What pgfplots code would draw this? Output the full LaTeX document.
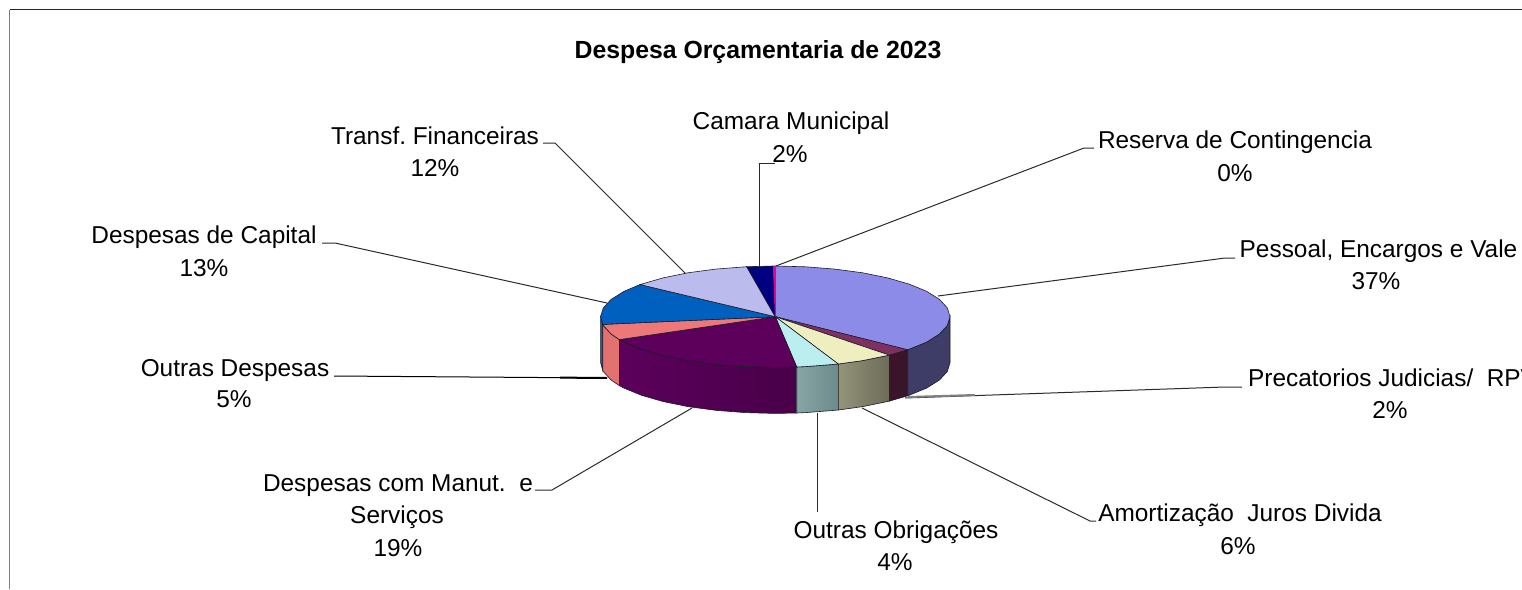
\documentclass[border=0pt]{standalone}
\usepackage{fontspec}
\setmainfont{Liberation Sans}
\usepackage{pgfplots}
\pgfplotsset{compat=1.18}
\definecolor{edge}{HTML}{1A1A2A}
\definecolor{lead}{HTML}{2A2A2A}
\begin{document}
\begin{tikzpicture}[every node/.style={font=\fontsize{24.4}{28}\selectfont, text=black, inner sep=0pt}]
  \useasboundingbox (0,0) rectangle (1522pt,589pt);
  \clip (0,0) rectangle (1522pt,589pt);
  \begin{axis}[
    scale only axis,
    width=1522pt, height=589pt,
    xmin=0, xmax=1522, ymin=0, ymax=589,
    y dir=reverse,
    hide axis,
    clip=false,
  ]
    % frame
    \addplot[black!85, line width=1.2pt] coordinates {(9.5,9.5)(1522,9.5)};
    \addplot[gray, line width=1.2pt] coordinates {(9.5,9.5)(9.5,589)};

    % leader lines
    \addplot[lead, line width=1pt] coordinates {(759,266)(759,163)(775,163)};
    \addplot[lead, line width=1pt] coordinates {(776,266)(1084,148)(1094,148)};
    \addplot[lead, line width=1pt] coordinates {(938,296)(1225,258)(1235,258)};
    \addplot[lead, line width=1pt] coordinates {(905,398)(1225,387)(1242,387)};
    \addplot[gray, line width=2pt] coordinates {(908,397)(975,395)};
    \addplot[lead, line width=1pt] coordinates {(862,408)(1090,521)(1096,521)};
    \addplot[lead, line width=1pt] coordinates {(817,413)(817,512)};
    \addplot[lead, line width=1pt] coordinates {(692,408)(552,490)(535,490)};
    \addplot[black, line width=1pt] coordinates {(334,376)(607,378)};
    \addplot[black, line width=2pt] coordinates {(560,377.6)(607,378)};
    \addplot[lead, line width=1pt] coordinates {(322,243)(335,243)(607,303)};
    \addplot[lead, line width=1pt] coordinates {(543,143)(555,143)(686,274)};

    % side walls
    \addplot[draw=edge, line width=0.6pt, fill={rgb,255:red,0;green,96;blue,192}] coordinates {
      (600.6,316.7)(602.7,324.4)(602.7,370.4)(600.6,362.7)} -- cycle;
    \addplot[draw=edge, line width=0.6pt, fill={rgb,255:red,226;green,114;blue,112}] coordinates {
      (602.7,324.4)(603.3,325.5)(611.1,334.0)(619.3,339.6)
      (619.3,385.6)(611.1,380.0)(603.3,371.5)(602.7,370.4)} -- cycle;
    \addplot[draw=edge, line width=0.6pt, left color={rgb,255:red,92;green,0;blue,92}, right color={rgb,255:red,72;green,0;blue,72}] coordinates {
      (619.3,339.6)(624.0,342.1)(641.5,349.3)(663.0,355.5)(687.9,360.6)(715.6,364.3)(745.0,366.6)(775.3,367.4)(796.7,367.0)
      (796.7,413.0)(775.3,413.4)(745.0,412.6)(715.6,410.3)(687.9,406.6)(663.0,401.5)(641.5,395.3)(624.0,388.1)(619.3,385.6)} -- cycle;
    \addplot[draw=edge, line width=0.6pt, left color={rgb,255:red,136;green,166;blue,166}, right color={rgb,255:red,108;green,138;blue,138}] coordinates {
      (796.7,367.0)(805.6,366.6)(835.0,364.3)(838.3,364.0)
      (838.3,410.0)(835.0,410.3)(805.6,412.6)(796.7,413.0)} -- cycle;
    \addplot[draw=edge, line width=0.6pt, left color={rgb,255:red,148;green,148;blue,122}, right color={rgb,255:red,108;green,108;blue,88}] coordinates {
      (838.3,364.0)(862.7,360.6)(887.6,355.5)(889.3,355.1)
      (889.3,401.1)(887.6,401.5)(862.7,406.6)(838.3,410.0)} -- cycle;
    \addplot[draw=edge, line width=0.6pt, fill={rgb,255:red,58;green,20;blue,40}] coordinates {
      (889.3,355.1)(907.7,349.8)(907.7,395.8)(889.3,401.1)} -- cycle;
    \addplot[draw=edge, line width=0.6pt, fill={rgb,255:red,61;green,61;blue,104}] coordinates {
      (907.7,349.8)(926.6,342.1)(939.5,334.0)(947.3,325.5)(950.0,316.7)
      (950.0,362.7)(947.3,371.5)(939.5,380.0)(926.6,388.1)(907.7,395.8)} -- cycle;

    % top slices, rim points read clockwise from twelve o'clock
    \addplot[draw=edge, line width=0.6pt, fill={rgb,255:red,140;green,140;blue,232}] coordinates {(775.3,316.7)
      (775.7,266.0)(805.6,266.8)(835.0,269.1)(862.7,272.8)(887.6,277.9)(909.1,284.1)(926.6,291.3)(939.5,299.4)(947.3,307.9)(950.0,316.7)
      (947.3,325.5)(939.5,334.0)(926.6,342.1)(907.7,349.8)} -- cycle;
    \addplot[draw=edge, line width=0.6pt, fill={rgb,255:red,127;green,47;blue,96}] coordinates {(775.3,316.7)
      (907.7,349.8)(889.3,355.1)} -- cycle;
    \addplot[draw=edge, line width=0.6pt, fill={rgb,255:red,238;green,238;blue,192}] coordinates {(775.3,316.7)
      (889.3,355.1)(887.6,355.5)(862.7,360.6)(838.3,364.0)} -- cycle;
    \addplot[draw=edge, line width=0.6pt, fill={rgb,255:red,187;green,238;blue,238}] coordinates {(775.3,316.7)
      (838.3,364.0)(835.0,364.3)(805.6,366.6)(796.7,367.0)} -- cycle;
    \addplot[draw=edge, line width=0.6pt, fill={rgb,255:red,92;green,0;blue,92}] coordinates {(775.3,316.7)
      (796.7,367.0)(775.3,367.4)(745.0,366.6)(715.6,364.3)(687.9,360.6)(663.0,355.5)(641.5,349.3)(624.0,342.1)(619.3,339.6)} -- cycle;
    \addplot[draw=edge, line width=0.6pt, fill={rgb,255:red,238;green,119;blue,119}] coordinates {(775.3,316.7)
      (619.3,339.6)(611.1,334.0)(603.3,325.5)(602.7,324.4)} -- cycle;
    \addplot[draw=edge, line width=0.6pt, fill={rgb,255:red,0;green,96;blue,192}] coordinates {(775.3,316.7)
      (602.7,324.4)(600.6,316.7)(603.3,307.9)(611.1,299.4)(624.0,291.3)(640.0,284.6)} -- cycle;
    \addplot[draw=edge, line width=0.6pt, fill={rgb,255:red,187;green,187;blue,238}] coordinates {(775.3,316.7)
      (640.0,284.6)(663.0,277.9)(687.9,272.8)(715.6,269.1)(746.7,266.7)} -- cycle;
    \addplot[draw=edge, line width=0.6pt, fill={rgb,255:red,0;green,0;blue,128}] coordinates {(775.3,316.7)
      (746.7,266.7)(773.3,266.0)} -- cycle;
    \addplot[draw=magenta, line width=0.6pt, fill=magenta] coordinates {(775.3,316.7)
      (773.3,266.0)(775.7,266.0)} -- cycle;

    % title and labels
    \node[anchor=base, font=\fontsize{24.8}{28}\selectfont\bfseries] at (axis cs:758,58) {Despesa Orçamentaria de 2023};
    \node[anchor=base] at (axis cs:791,129) {Camara Municipal};
    \node[anchor=base] at (axis cs:790,162) {2\%};
    \node[anchor=base] at (axis cs:1235,148) {Reserva de Contingencia};
    \node[anchor=base] at (axis cs:1235,181) {0\%};
    \node[anchor=base] at (axis cs:1378.5,257) {Pessoal, Encargos e Vale};
    \node[anchor=base] at (axis cs:1376,289) {37\%};
    \node[anchor=base west] at (axis cs:1248,386) {Precatorios Judicias/~~RPV};
    \node[anchor=base] at (axis cs:1390,418) {2\%};
    \node[anchor=base] at (axis cs:1240,521) {Amortização~~Juros Divida};
    \node[anchor=base] at (axis cs:1238,554) {6\%};
    \node[anchor=base] at (axis cs:896,538) {Outras Obrigações};
    \node[anchor=base] at (axis cs:895,570) {4\%};
    \node[anchor=base] at (axis cs:398,491) {Despesas com Manut.~~e};
    \node[anchor=base] at (axis cs:397,523) {Serviços};
    \node[anchor=base] at (axis cs:398,556) {19\%};
    \node[anchor=base] at (axis cs:235,376) {Outras Despesas};
    \node[anchor=base] at (axis cs:234,407) {5\%};
    \node[anchor=base] at (axis cs:204,243) {Despesas de Capital};
    \node[anchor=base] at (axis cs:204,276) {13\%};
    \node[anchor=base] at (axis cs:435,144) {Transf.~Financeiras};
    \node[anchor=base] at (axis cs:435,176) {12\%};
  \end{axis}
\end{tikzpicture}
\end{document}
